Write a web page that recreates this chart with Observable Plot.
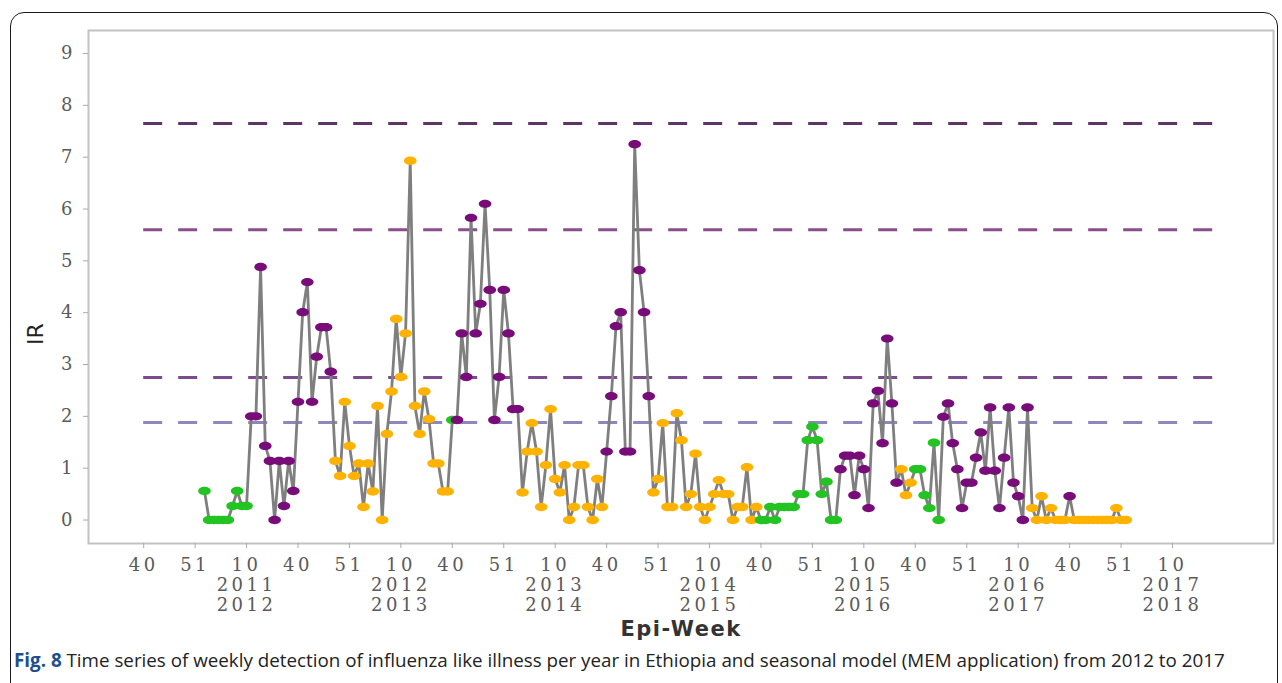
<!DOCTYPE html>
<html><head><meta charset="utf-8">
<script src="https://cdn.jsdelivr.net/npm/d3@7"></script>
<script src="https://cdn.jsdelivr.net/npm/@observablehq/plot@0.6"></script>
<style>
html,body{margin:0;padding:0;background:#fff;overflow:hidden;width:1282px;height:683px;}
#frame{position:absolute;left:10px;top:12px;width:1268px;height:720px;border:1.5px solid #1a1a1a;border-radius:14px;box-sizing:border-box;}
#chart{position:absolute;left:0;top:0;}
#caption{position:absolute;left:14px;top:647px;font-family:"Open Sans";font-size:18.8px;color:#222;white-space:nowrap;}
#caption b{color:#1e4e8c;}
g[aria-label="x-axis tick label"] text{letter-spacing:3.5px;}
</style></head><body>
<div id="frame"></div>
<div id="chart"></div>
<div id="caption"><b>Fig. 8</b> Time series of weekly detection of influenza like illness per year in Ethiopia and seasonal model (MEM application) from 2012 to 2017</div>
<script>
// first plotted point sits at this position on the week axis
const startIndex = 13;
// weekly IR values
const irValues = [
 0.56,0,0,0,0,0,0.27,0.56,0.27,0.27,
 2.0,2.0,4.88,1.43,1.14,0,1.14,0.27,1.14,0.56,2.28,4.01,4.59,2.28,3.15,3.72,3.72,2.86,
 1.14,0.85,2.28,1.43,0.85,1.09,0.25,1.09,0.55,2.2,0,1.66,2.48,3.88,2.76,3.6,6.93,2.2,1.66,2.48,1.95,1.09,1.09,0.55,0.55,
 1.93,
 1.93,3.6,2.76,5.83,3.6,4.17,6.1,4.44,1.93,2.76,4.44,3.6,2.14,2.14,
 0.53,1.32,1.87,1.32,0.25,1.06,2.14,0.79,0.53,1.06,0,0.25,1.06,1.06,0.25,0,0.79,0.25,
 1.32,2.39,3.74,4.01,1.32,1.32,7.25,4.82,4.01,2.39,
 0.53,0.79,1.87,0.25,0.25,2.06,1.54,0.25,0.5,1.28,0.25,0,0.25,0.5,0.77,0.5,0.5,0,0.25,0.25,1.02,0,0.25,
 0,0,0.25,0,0.25,0.25,0.25,0.25,0.5,0.5,1.54,1.8,1.54,0.5,0.74,0,0,
 0.98,1.24,1.24,0.48,1.24,0.98,0.23,2.25,2.49,1.48,3.5,2.25,0.72,
 0.98,0.48,0.72,
 0.98,0.98,0.48,0.23,1.49,0,
 1.99,2.25,1.48,0.98,0.23,0.72,0.72,1.2,1.69,0.95,2.17,0.95,0.23,1.2,2.17,0.72,0.46,0,2.17,
 0.23,0,0.46,0,0.23,0,0,0,
 0.46,
 0,0,0,0,0,0,0,0,0,0.23,0,0
];
// MEM phase of each point: G = pre-epidemic, P = epidemic, O = post-epidemic
const phaseCodes = [
 "G","G","G","G","G","G","G","G","G","G",
 "P","P","P","P","P","P","P","P","P","P","P","P","P","P","P","P","P","P",
 "O","O","O","O","O","O","O","O","O","O","O","O","O","O","O","O","O","O","O","O","O","O","O","O","O",
 "G",
 "P","P","P","P","P","P","P","P","P","P","P","P","P","P",
 "O","O","O","O","O","O","O","O","O","O","O","O","O","O","O","O","O","O",
 "P","P","P","P","P","P","P","P","P","P",
 "O","O","O","O","O","O","O","O","O","O","O","O","O","O","O","O","O","O","O","O","O","O","O",
 "G","G","G","G","G","G","G","G","G","G","G","G","G","G","G","G","G",
 "P","P","P","P","P","P","P","P","P","P","P","P","P",
 "O","O","O",
 "G","G","G","G","G","G",
 "P","P","P","P","P","P","P","P","P","P","P","P","P","P","P","P","P","P","P",
 "O","O","O","O","O","O","O","O",
 "P",
 "O","O","O","O","O","O","O","O","O","O","O","O"
];
const phaseNames = ["G","P","O"];
const phaseColors = ["#22c422","#780c78","#ffb300"];

// MEM intensity thresholds
const thresholdValues = [1.88, 2.75, 5.6, 7.65];
const thresholdColors = ["#8f86bd","#7c4c8e","#8a4e8c","#5e3566"];
const thresholdSpan = [0, 231];

// x axis
const tickPositions = [0,11,22,33,44,55,66,77,88,99,110,121,132,143,154,165,176,187,198,209,220];
const tickWeeks = ["40","51","10","40","51","10","40","51","10","40","51","10","40","51","10","40","51","10","40","51","10"];
const seasonLabels = ["2011\n2012","2012\n2013","2013\n2014","2014\n2015","2015\n2016","2016\n2017","2017\n2018"];
const yTicks = [0,1,2,3,4,5,6,7,8,9];

const data = irValues.map((v,i)=>({week:startIndex+i, ir:v, phase:phaseCodes[i]}));
const tickText = tickPositions.map((p,i)=> tickWeeks[i]==="10" ? tickWeeks[i]+"\n"+seasonLabels[(i-2)/3] : tickWeeks[i]);

const ellipse = {draw(ctx,size){
  const r=Math.sqrt(size/Math.PI), rx=1.5*r, ry=r, k=0.5523;
  ctx.moveTo(rx,0);
  ctx.bezierCurveTo(rx,k*ry,k*rx,ry,0,ry);
  ctx.bezierCurveTo(-k*rx,ry,-rx,k*ry,-rx,0);
  ctx.bezierCurveTo(-rx,-k*ry,-k*rx,-ry,0,-ry);
  ctx.bezierCurveTo(k*rx,-ry,rx,-k*ry,rx,0);
  ctx.closePath();
}};

const ruleMarks = thresholdValues.map((v,i)=>Plot.ruleY([{value:v,x1:thresholdSpan[0],x2:thresholdSpan[1]}],
  {y:"value",x1:"x1",x2:"x2",stroke:thresholdColors[i],strokeWidth:3,strokeDasharray:"19,16"}));

const plot = Plot.plot({
  width:1282, height:650,
  marginLeft:88, marginRight:9, marginTop:30, marginBottom:107,
  style:{background:"transparent", overflow:"visible"},
  x:{domain:[-11.8,241.6], axis:null},
  y:{domain:[-0.453,9.444], axis:null},
  color:{domain:phaseNames, range:phaseColors},
  marks:[
    Plot.frame({stroke:"#c2c2c2", strokeWidth:2}),
    ...ruleMarks,
    Plot.line(data,{x:"week",y:"ir",stroke:"#7f7f7f",strokeWidth:2.8}),
    Plot.dot(data,{x:"week",y:"ir",fill:"phase",r:4.2,symbol:ellipse}),
    Plot.axisY({ticks:yTicks, tickSize:5, tickPadding:11, fontSize:18, fontFamily:"DejaVu Serif", fill:"#5a5a5a", stroke:"#aaa", label:null}),
    Plot.axisX({ticks:tickPositions, tickFormat:(d)=>tickText[tickPositions.indexOf(d)], tickSize:5, tickPadding:8, fontSize:18, lineHeight:1.11, fontFamily:"DejaVu Serif", fill:"#5a5a5a", stroke:"#aaa", label:null}),
    Plot.text(["IR"],{text:d=>d, frameAnchor:"left", dx:-53, dy:58, rotate:-90, fontSize:22, fontFamily:"DejaVu Sans", fill:"#222"}),
    Plot.text(["Epi-Week"],{text:d=>d, frameAnchor:"bottom", dy:86, lineAnchor:"middle", fontSize:21, fontWeight:"bold", fontFamily:"DejaVu Sans", fill:"#333"})
  ]
});
document.getElementById("chart").appendChild(plot);
// stretch the Epi-Week title horizontally like the reference
d3.select(plot).selectAll("text").filter(function(){return this.textContent==="Epi-Week";}).style("letter-spacing","1.5px");
</script>
</body></html>
